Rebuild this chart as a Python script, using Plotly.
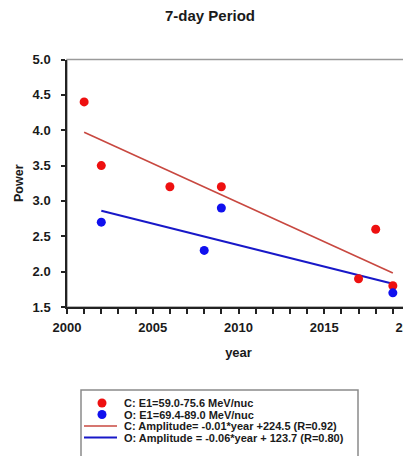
import plotly.graph_objects as go

# ---- data ----
c_years = [2001, 2002, 2006, 2009, 2017, 2018, 2019]
c_power = [4.4, 3.5, 3.2, 3.2, 1.9, 2.6, 1.8]
o_years = [2002, 2008, 2009, 2019]
o_power = [2.7, 2.3, 2.9, 1.7]
c_fit_years = [2001, 2019]
c_fit_power = [3.97, 1.98]
o_fit_years = [2002, 2019]
o_fit_power = [2.86, 1.83]
x_tick_years = list(range(2000, 2021))
x_tick_labels = [str(y) if y % 5 == 0 else "" for y in x_tick_years]
legend_labels = [
    "C: E1=59.0-75.6 MeV/nuc",
    "O: E1=69.4-89.0 MeV/nuc",
    "C: Amplitude= -0.01*year +224.5 (R=0.92)",
    "O: Amplitude = -0.06*year + 123.7 (R=0.80)",
]

# page is 411x456, the html body adds an 8px margin, so the figure is smaller
OFF = 8
W, H = 411 - OFF, 456 - OFF
FONT = "Liberation Sans, Arial, sans-serif"
RED_M = "rgb(238,16,16)"
BLUE_M = "rgb(16,16,238)"
RED_L = "rgb(200,72,64)"
BLUE_L = "rgb(24,24,200)"
TXT = "#1a1a1a"
AX = "#222222"


def px(v):  # page x -> paper
    return (v - OFF) / W


def py(v):  # page y -> paper
    return 1 - (v - OFF) / H


# plot area in page pixels
PL, PR, PT, PB = 67, 410, 59.5, 307

fig = go.Figure()
fig.add_trace(go.Scatter(x=c_fit_years, y=c_fit_power, mode="lines",
                         line=dict(color=RED_L, width=1.6), showlegend=False))
fig.add_trace(go.Scatter(x=o_fit_years, y=o_fit_power, mode="lines",
                         line=dict(color=BLUE_L, width=2), showlegend=False))
fig.add_trace(go.Scatter(x=c_years, y=c_power, mode="markers",
                         marker=dict(color=RED_M, size=9), showlegend=False))
fig.add_trace(go.Scatter(x=o_years, y=o_power, mode="markers",
                         marker=dict(color=BLUE_M, size=9), showlegend=False))

# ---- manual legend in its own subplot (page-pixel coordinates) ----
LX0, LX1, LY0, LY1 = 81, 358, 390, 456
rows = [403, 414.5, 426, 437.5]
fig.add_trace(go.Scatter(x=[102], y=[rows[0]], mode="markers", xaxis="x2", yaxis="y2",
                         marker=dict(color=RED_M, size=9), showlegend=False))
fig.add_trace(go.Scatter(x=[102], y=[rows[1]], mode="markers", xaxis="x2", yaxis="y2",
                         marker=dict(color=BLUE_M, size=9), showlegend=False))
fig.add_trace(go.Scatter(x=[84, 117], y=[rows[2], rows[2]], mode="lines", xaxis="x2", yaxis="y2",
                         line=dict(color=RED_L, width=1.6), showlegend=False))
fig.add_trace(go.Scatter(x=[84, 117], y=[rows[3], rows[3]], mode="lines", xaxis="x2", yaxis="y2",
                         line=dict(color=BLUE_L, width=2), showlegend=False))

annotations = []
for lab, yy in zip(legend_labels, rows):
    annotations.append(dict(x=122, y=yy, xref="x2", yref="y2", text=lab, showarrow=False,
                            xanchor="left", yanchor="middle",
                            font=dict(family=FONT, size=11, color=TXT, weight="bold")))
annotations.append(dict(x=0.5, y=py(15), xref="paper", yref="paper", text="7-day Period",
                        showarrow=False, xanchor="center", yanchor="middle",
                        font=dict(family=FONT, size=15, color=TXT, weight="bold")))

shapes = [
    dict(type="rect", xref="paper", yref="paper",
         x0=px(PL), x1=px(PR), y0=py(PB), y1=py(PT),
         line=dict(color="#9a9a9a", width=1.5), layer="below"),
    dict(type="rect", xref="paper", yref="paper",
         x0=px(LX0), x1=px(LX1), y0=-0.05, y1=py(LY0),
         line=dict(color="#8a8a8a", width=1.5)),
]

tickfont = dict(family=FONT, size=13, color=TXT, weight="bold")
fig.update_layout(
    width=W, height=H,
    margin=dict(l=0, r=0, t=0, b=0),
    paper_bgcolor="white", plot_bgcolor="white",
    showlegend=False,
    xaxis=dict(domain=[px(PL), px(PR)], range=[2000, 2020],
               tickmode="array", tickvals=x_tick_years, ticktext=x_tick_labels,
               showgrid=False, zeroline=False, showline=True, linecolor=AX, linewidth=1.5,
               ticks="outside", ticklen=5, tickwidth=1.5, tickcolor=AX,
               tickfont=tickfont, automargin=False, ticklabeloverflow="allow",
               ticklabelstandoff=3,
               title=dict(text="year", font=dict(family=FONT, size=13, color=TXT, weight="bold"),
                          standoff=14)),
    yaxis=dict(domain=[py(PB), py(PT)], range=[1.5, 5.0], dtick=0.5, tick0=1.5,
               tickformat=".1f",
               showgrid=False, zeroline=False, showline=True, linecolor=AX, linewidth=1.5,
               ticks="outside", ticklen=4, tickwidth=1.5, tickcolor=AX,
               tickfont=tickfont, automargin=False, ticklabelstandoff=8,
               ticklabeloverflow="allow",
               title=dict(text="Power", font=dict(family=FONT, size=12.5, color=TXT, weight="bold"),
                          standoff=6)),
    xaxis2=dict(domain=[px(LX0), px(LX1)], range=[LX0, LX1], visible=False, fixedrange=True),
    yaxis2=dict(domain=[0, py(LY0)], range=[LY1, LY0], visible=False, fixedrange=True),
    annotations=annotations,
    shapes=shapes,
)

fig.write_html("out.html")
